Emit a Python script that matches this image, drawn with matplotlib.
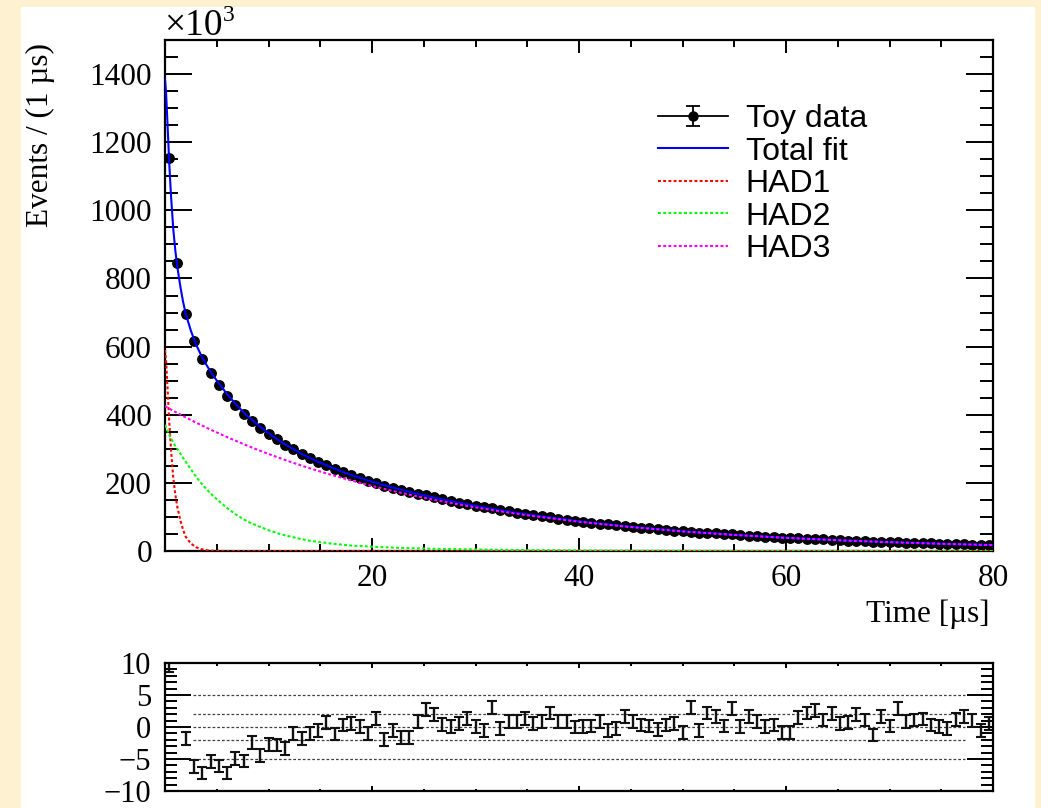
import numpy as np
import matplotlib
matplotlib.use("Agg")
import matplotlib.pyplot as plt
from matplotlib.patches import Rectangle
from matplotlib.path import Path
from matplotlib.lines import Line2D
from matplotlib.ticker import MultipleLocator

# ---------------------------------------------------------------- data
# 100 bins of 0.8 us between 0 and 80 us
time_edges = np.linspace(0.0, 80.0, 101)
time_centres = 0.5 * (time_edges[:-1] + time_edges[1:])
bin_half_width = 0.5 * (time_edges[1] - time_edges[0])

# toy data: events per bin, in units of 10^3
toy_events = [
    1155.0, 846.0, 694.8, 616.1, 564.1, 523.3, 487.9, 455.5, 428.6, 403.2,
    382.7, 362.0, 344.3, 327.3, 311.4, 298.3, 284.5, 272.3, 261.6, 251.7,
    240.9, 232.1, 223.1, 214.9, 206.8, 200.5, 192.1, 186.1, 179.2, 173.1,
    168.2, 163.3, 157.5, 151.8, 146.6, 142.0, 137.6, 132.5, 127.9, 124.9,
    119.6, 116.0, 112.2, 108.7, 104.9, 101.6, 98.7, 95.2, 92.0, 88.8,
    85.9, 83.2, 80.7, 77.8, 75.3, 73.5, 70.9, 68.5, 66.2, 63.9,
    62.0, 60.1, 57.8, 56.9, 54.3, 53.2, 51.4, 49.4, 48.5, 46.3,
    45.2, 43.6, 42.1, 40.8, 39.2, 38.0, 37.2, 36.2, 35.1, 33.8,
    32.9, 31.5, 30.6, 29.8, 28.8, 27.5, 27.1, 25.9, 25.6, 24.4,
    23.7, 23.0, 22.1, 21.4, 20.7, 20.2, 19.6, 18.9, 18.1, 17.7,
]

# residual pulls (data - fit) / error for every bin
pulls = [
    9.6, 14.0, -1.8, -6.2, -7.2, -5.4, -6.1, -7.2, -4.9, -5.3,
    -2.4, -4.4, -2.7, -2.8, -3.3, -1.0, -1.8, -1.0, -0.6, 0.7,
    -1.1, 0.3, 0.5, 0.1, -1.0, 1.3, -2.0, -0.5, -1.6, -1.7,
    0.8, 2.7, 1.9, 0.4, 0.05, 0.5, 1.35, 0.05, -0.6, 3.1,
    -0.2, 0.8, 0.9, 1.35, 0.5, 0.9, 2.2, 0.9, 0.9, 0.0,
    0.1, 0.15, 0.8, -0.6, -0.2, 1.7, 0.8, 0.3, 0.15, -0.35,
    0.3, 0.5, -0.9, 3.1, -0.5, 2.2, 1.6, 0.15, 2.9, 0.05,
    1.7, 0.8, 0.05, 0.3, -0.9, -0.9, 1.5, 2.2, 2.55, 1.1,
    2.1, 0.5, 0.7, 1.9, 1.1, -1.25, 1.6, 0.15, 2.9, 0.8,
    1.1, 1.25, 0.3, 0.05, -0.2, 1.2, 1.6, 1.05, -0.5, 0.6,
]
pull_error = 1.0

# fit components sampled in time (units of 10^3 events per bin)
curve_time = [
    0.0, 0.1, 0.2, 0.3, 0.4, 0.5, 0.6, 0.8, 1.0, 1.2, 1.5, 1.75, 2.0, 2.5,
    3.0, 3.5, 4.0, 4.5, 5.0,
    6, 7, 8, 9, 10, 11, 12, 13, 14, 15, 16,
    18, 20, 22, 24, 26, 28, 30, 32,
    35, 40, 45, 50, 55, 60, 65, 70, 75, 80,
]
had1 = [
    590, 560, 505, 445, 385, 335, 290, 215, 165, 128, 88, 62, 42, 22,
    11, 5.5, 2.5, 1.0, 0.4,
    0, 0, 0, 0, 0, 0, 0, 0, 0, 0, 0,
    0, 0, 0, 0, 0, 0, 0, 0,
    0, 0, 0, 0, 0, 0, 0, 0, 0, 0,
]
had2 = [
    370, 363, 356, 349, 342, 335, 329, 318, 308, 299, 285, 273, 262, 240,
    218, 199, 182, 166, 152,
    126, 104, 86, 73, 61, 51, 43, 36, 30, 26, 22,
    16, 12.5, 10, 8, 6.5, 5.5, 4.5, 3.5,
    2.5, 1.5, 0.9, 0.5, 0.3, 0.2, 0.1, 0.05, 0.02, 0.0,
]
had3 = [
    425.0, 423.3, 421.6, 420.0, 418.3, 416.6, 414.9, 411.6, 408.3, 405.1,
    400.3, 396.3, 392.3, 384.6, 377.0, 369.4, 362.1, 354.9, 348.0,
    334.4, 321.3, 308.7, 296.6, 284.9, 273.7, 263.0, 252.7, 242.8, 233.2, 224.1,
    206.9, 191.0, 176.3, 162.7, 150.2, 138.7, 128.0, 118.2,
    104.8, 85.8, 70.2, 57.5, 47.1, 38.6, 31.6, 25.9, 21.2, 17.4,
]

x_ticks = [0, 20, 40, 60, 80]
x_tick_labels = ["", "20", "40", "60", "80"]
pull_ticks = [-10, -5, 0, 5, 10]
pull_tick_labels = ["\u221210", "\u22125", "0", "5", "10"]
pull_reference_levels = [-5, -2, 0, 2, 5]
legend_labels = ["Toy data", "Total fit", "HAD1", "HAD2", "HAD3"]

# ---------------------------------------------------------------- style
W, H = 1041, 808
plt.rcParams["font.family"] = ["Liberation Serif", "DejaVu Serif"]
plt.rcParams["axes.linewidth"] = 1.6

fig = plt.figure(figsize=(W / 100, H / 100), dpi=100)
fig.patch.set_facecolor("#fdf1d1")
fig.patches.append(Rectangle((21 / W, 0), (1035 - 21) / W, (H - 7) / H,
                             transform=fig.transFigure, facecolor="white",
                             edgecolor="none", zorder=-10))


def px_axes(left, top, right, bottom):
    return fig.add_axes([left / W, 1 - bottom / H, (right - left) / W,
                         (bottom - top) / H])


ax = px_axes(165, 40, 993, 551)
axp = px_axes(165, 663, 993, 791)

# ---------------------------------------------------------------- main panel
t = np.asarray(time_centres)
n = np.asarray(toy_events)
n_err = np.sqrt(n * 1000.0) / 1000.0

ax.errorbar(t, n, yerr=n_err, xerr=bin_half_width, fmt="o", color="black",
            ms=6.8, elinewidth=1.0, capsize=0, zorder=2)

ct = np.asarray(curve_time)
h1, h2, h3 = np.asarray(had1), np.asarray(had2), np.asarray(had3)
total = h1 + h2 + h3

dot = (0, (1.4, 1.1))
line_total, = ax.plot(ct, total, color="#0000ff", lw=1.5, zorder=3)
line_h1, = ax.plot(ct, h1, color="#ff0000", lw=1.5, ls=dot, zorder=3)
line_h2, = ax.plot(ct, h2, color="#00ff00", lw=1.5, ls=dot, zorder=3)
line_h3, = ax.plot(ct, h3, color="#ff00ff", lw=1.5, ls=dot, zorder=3)

ax.set_xlim(0, 80)
ax.set_ylim(0, 1500)
ax.set_xticks(x_ticks, labels=x_tick_labels)
ax.xaxis.set_minor_locator(MultipleLocator(5))
ax.yaxis.set_major_locator(MultipleLocator(200))
ax.yaxis.set_minor_locator(MultipleLocator(50))
ax.tick_params(which="both", direction="in", top=True, right=True,
               width=1.4, labelsize=22.5)
ax.tick_params(axis="y", which="major", length=19.5, pad=9.4)
ax.tick_params(axis="y", which="minor", length=9.7)
ax.tick_params(axis="x", which="major", length=9.4, pad=9.5)
ax.tick_params(axis="x", which="minor", length=5)

# data legend symbol: line + vertical error bar with caps + marker
ibeam = Path([(-0.7, 1), (0.7, 1), (0, 1), (0, -1), (-0.7, -1), (0.7, -1)],
             [Path.MOVETO, Path.LINETO, Path.MOVETO, Path.LINETO,
              Path.MOVETO, Path.LINETO])
data_handle = (
    Line2D([], [], color="black", lw=1.3),
    Line2D([], [], ls="none", marker=ibeam, ms=15, mfc="none",
           mec="black", mew=1.3),
    Line2D([], [], ls="none", marker="o", ms=6.5, color="black"),
)
ax.legend([data_handle, line_total, line_h1, line_h2, line_h3], legend_labels,
          loc="upper left", bbox_to_anchor=(658 / W, 1 - 104 / H),
          bbox_transform=fig.transFigure, frameon=False, borderpad=0,
          borderaxespad=0, handlelength=2.2, handletextpad=0.55,
          labelspacing=0.08, prop={"family": "Liberation Sans", "size": 23})

fig.text(40 / W, 1 - 43 / H, "Events / (1 \u00b5s)", rotation=90,
         ha="center", va="top", fontsize=22.5)
fig.text(990 / W, 1 - 614 / H, "Time [\u00b5s]", ha="right", va="center",
         fontsize=22.5)
mult = fig.text(164 / W, 1 - 35 / H, "\u00d710", ha="left", va="baseline",
                fontsize=27)
ax.annotate("3", xy=(1.0, 0.5), xycoords=mult, ha="left", va="bottom",
            fontsize=17, annotation_clip=False)

# ---------------------------------------------------------------- pull panel
axp.hlines(pull_reference_levels, 2.7, 77.3, colors="#404040",
           linestyles=(0, (2.2, 1.6)), linewidth=0.9, zorder=1)
axp.errorbar(t, pulls, yerr=pull_error, fmt="none", ecolor="#111111",
             elinewidth=1.7, capsize=3.4, capthick=1.5, zorder=2)
axp.set_xlim(0, 80)
axp.set_ylim(-10, 10)
axp.set_yticks(pull_ticks, labels=pull_tick_labels)
axp.yaxis.set_minor_locator(MultipleLocator(1))
axp.xaxis.set_major_locator(MultipleLocator(20))
axp.xaxis.set_minor_locator(MultipleLocator(5))
axp.tick_params(which="both", direction="in", top=True, right=True,
                width=1.4, labelsize=22, labelbottom=False)
axp.tick_params(axis="y", which="major", length=18.7, pad=10.0)
axp.tick_params(axis="y", which="minor", length=8.6)
axp.tick_params(axis="x", which="major", length=3.6)
axp.tick_params(axis="x", which="minor", length=1.8)

fig.savefig("out.png", dpi=100)
